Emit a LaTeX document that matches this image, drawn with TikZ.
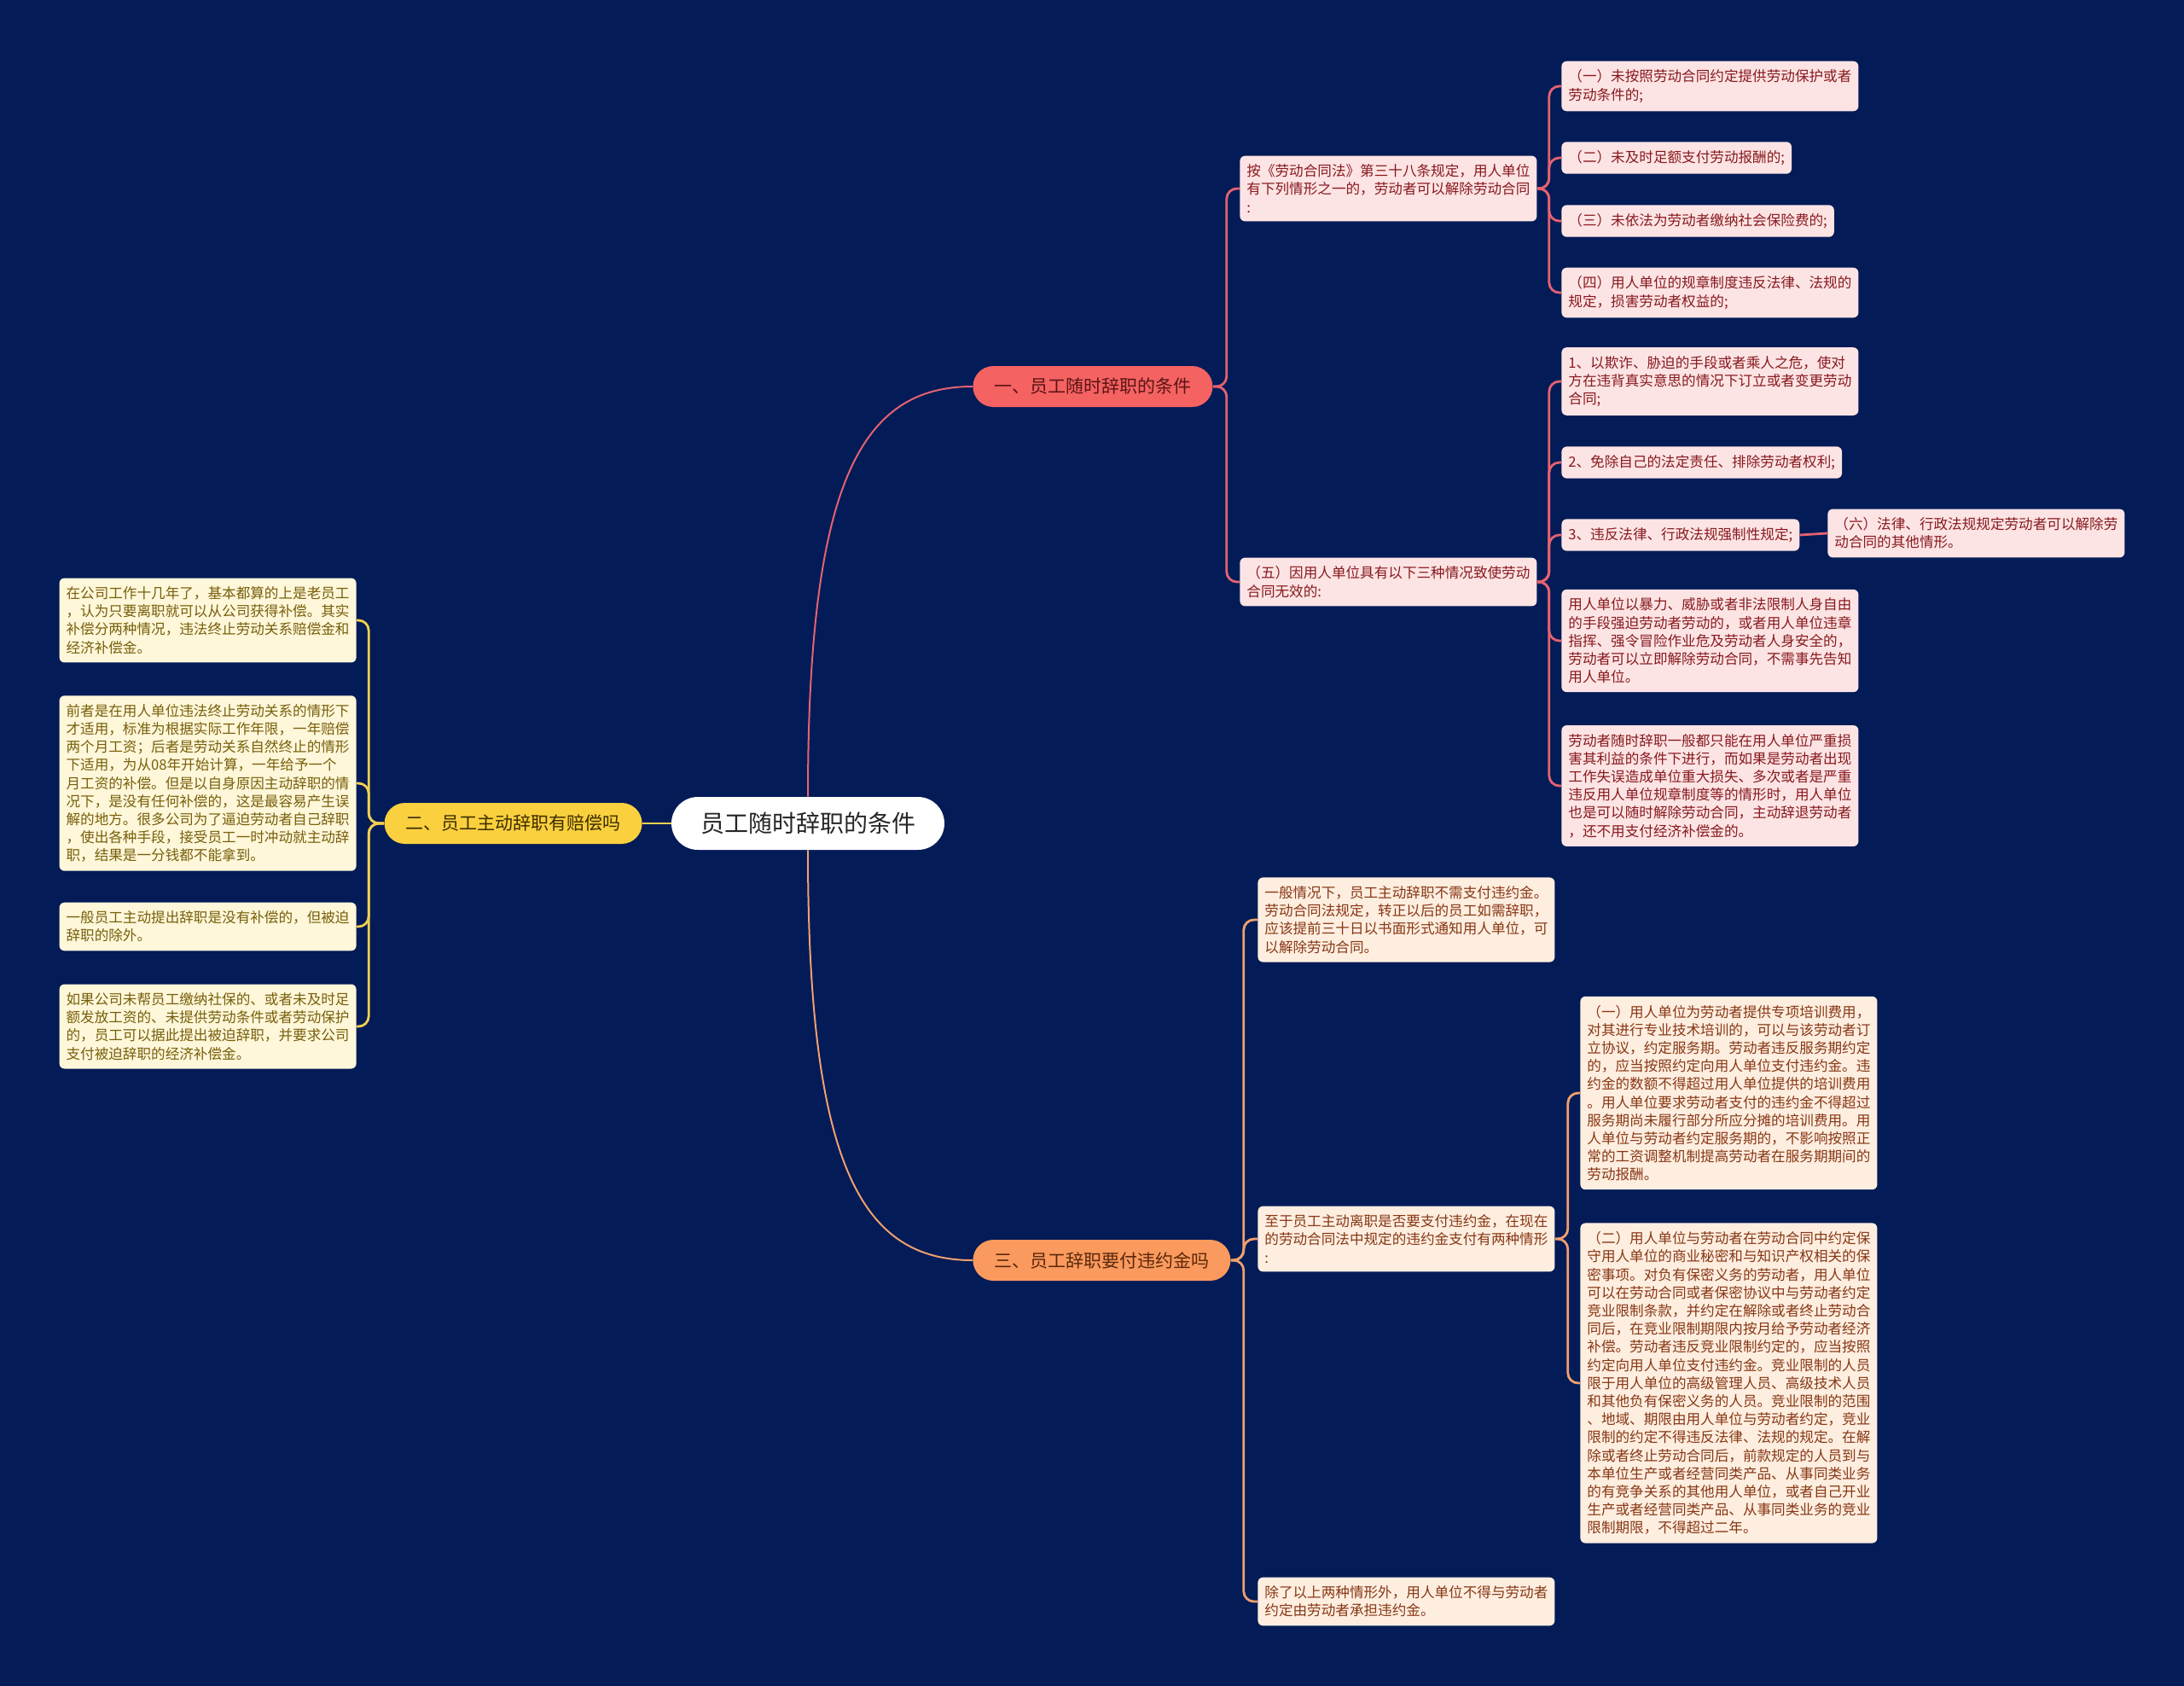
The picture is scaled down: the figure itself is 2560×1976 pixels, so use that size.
\documentclass[tikz,border=0pt]{standalone}
\usepackage{fontspec}
\setmainfont{Noto Sans CJK SC}
\usetikzlibrary{positioning}

\definecolor{navy}{RGB}{3,27,87}
\definecolor{redpill}{RGB}{245,98,98}
\definecolor{yellowpill}{RGB}{250,208,62}
\definecolor{orangepill}{RGB}{250,154,94}
\definecolor{pinkfill}{RGB}{253,228,228}
\definecolor{pinktext}{RGB}{135,25,30}
\definecolor{creamfill}{RGB}{254,247,218}
\definecolor{creamtext}{RGB}{120,95,10}
\definecolor{peachfill}{RGB}{254,238,224}
\definecolor{peachtext}{RGB}{135,55,20}
\definecolor{redline}{RGB}{228,98,112}
\definecolor{yellowline}{RGB}{240,208,80}
\definecolor{orangeline}{RGB}{240,160,110}
\definecolor{redpilltext}{RGB}{90,20,20}
\definecolor{yellowpilltext}{RGB}{60,45,0}
\definecolor{orangepilltext}{RGB}{90,40,10}

\newcommand\leaffont{\fontsize{8.3}{10.6}\selectfont}
\newcommand\pillfont{\fontsize{10.5}{12}\selectfont}
\newcommand\rootfont{\fontsize{14}{16}\selectfont}

\begin{document}
\begin{tikzpicture}[x=0.5pt,y=-0.5pt,
	rootpill/.style={rectangle, rounded corners=15.5pt, fill=white, text=black!85, font=\rootfont, inner xsep=17pt, minimum height=31pt},
	pill/.style={rectangle, rounded corners=12pt, font=\pillfont, inner xsep=12.5pt, minimum height=24pt},
	leaf/.style={rectangle, rounded corners=3pt, align=left, inner xsep=4pt, inner ysep=5pt, font=\leaffont},
	redleaf/.style={leaf, fill=pinkfill, text=pinktext},
	yellowleaf/.style={leaf, fill=creamfill, text=creamtext},
	orangeleaf/.style={leaf, fill=peachfill, text=peachtext},
	trunk/.style={line width=1pt},
	twig/.style={line width=1.4pt, rounded corners=6pt}]

	\fill[navy] (0,0) rectangle (2560,1976);
	\useasboundingbox (0,0) rectangle (2560,1976);

	\node[rootpill] (root) at (947,965) {员工随时辞职的条件};
	\node[pill, fill=redpill, text=redpilltext, anchor=west] (one) at (1140,453) {一、员工随时辞职的条件};
	\node[pill, fill=yellowpill, text=yellowpilltext, anchor=east] (two) at (753,965) {二、员工主动辞职有赔偿吗};
	\node[pill, fill=orangepill, text=orangepilltext, anchor=west] (three) at (1140,1477) {三、员工辞职要付违约金吗};

	% branch one
	\node[redleaf, anchor=west] (law) at (1453,221) {按《劳动合同法》第三十八条规定，用人单位\\有下列情形之一的，劳动者可以解除劳动合同\\:};
	\node[redleaf, anchor=west] (lawa) at (1830,101) {（一）未按照劳动合同约定提供劳动保护或者\\劳动条件的;};
	\node[redleaf, anchor=west] (lawb) at (1830,185) {（二）未及时足额支付劳动报酬的;};
	\node[redleaf, anchor=west] (lawc) at (1830,259) {（三）未依法为劳动者缴纳社会保险费的;};
	\node[redleaf, anchor=west] (lawd) at (1830,343) {（四）用人单位的规章制度违反法律、法规的\\规定，损害劳动者权益的;};

	\node[redleaf, anchor=west] (void) at (1453,682) {（五）因用人单位具有以下三种情况致使劳动\\合同无效的:};
	\node[redleaf, anchor=west] (voida) at (1830,447) {1、以欺诈、胁迫的手段或者乘人之危，使对\\方在违背真实意思的情况下订立或者变更劳动\\合同;};
	\node[redleaf, anchor=west] (voidb) at (1830,542) {2、免除自己的法定责任、排除劳动者权利;};
	\node[redleaf, anchor=west] (voidc) at (1830,627) {3、违反法律、行政法规强制性规定;};
	\node[redleaf, anchor=west] (voidc6) at (2142,625) {（六）法律、行政法规规定劳动者可以解除劳\\动合同的其他情形。};
	\node[redleaf, anchor=west] (voidd) at (1830,751) {用人单位以暴力、威胁或者非法限制人身自由\\的手段强迫劳动者劳动的，或者用人单位违章\\指挥、强令冒险作业危及劳动者人身安全的，\\劳动者可以立即解除劳动合同，不需事先告知\\用人单位。};
	\node[redleaf, anchor=west] (voide) at (1830,921) {劳动者随时辞职一般都只能在用人单位严重损\\害其利益的条件下进行，而如果是劳动者出现\\工作失误造成单位重大损失、多次或者是严重\\违反用人单位规章制度等的情形时，用人单位\\也是可以随时解除劳动合同，主动辞退劳动者\\，还不用支付经济补偿金的。};

	% branch two
	\node[yellowleaf, anchor=east] (paya) at (418,727) {在公司工作十几年了，基本都算的上是老员工\\，认为只要离职就可以从公司获得补偿。其实\\补偿分两种情况，违法终止劳动关系赔偿金和\\经济补偿金。};
	\node[yellowleaf, anchor=east] (payb) at (418,918) {前者是在用人单位违法终止劳动关系的情形下\\才适用，标准为根据实际工作年限，一年赔偿\\两个月工资；后者是劳动关系自然终止的情形\\下适用，为从08年开始计算，一年给予一个\\月工资的补偿。但是以自身原因主动辞职的情\\况下，是没有任何补偿的，这是最容易产生误\\解的地方。很多公司为了逼迫劳动者自己辞职\\，使出各种手段，接受员工一时冲动就主动辞\\职，结果是一分钱都不能拿到。};
	\node[yellowleaf, anchor=east] (payc) at (418,1086) {一般员工主动提出辞职是没有补偿的，但被迫\\辞职的除外。};
	\node[yellowleaf, anchor=east] (payd) at (418,1203) {如果公司未帮员工缴纳社保的、或者未及时足\\额发放工资的、未提供劳动条件或者劳动保护\\的，员工可以据此提出被迫辞职，并要求公司\\支付被迫辞职的经济补偿金。};

	% branch three
	\node[orangeleaf, anchor=west] (fine) at (1474,1078) {一般情况下，员工主动辞职不需支付违约金。\\劳动合同法规定，转正以后的员工如需辞职，\\应该提前三十日以书面形式通知用人单位，可\\以解除劳动合同。};
	\node[orangeleaf, anchor=west] (case) at (1474,1452) {至于员工主动离职是否要支付违约金，在现在\\的劳动合同法中规定的违约金支付有两种情形\\:};
	\node[orangeleaf, anchor=west] (casea) at (1852,1281) {（一）用人单位为劳动者提供专项培训费用，\\对其进行专业技术培训的，可以与该劳动者订\\立协议，约定服务期。劳动者违反服务期约定\\的，应当按照约定向用人单位支付违约金。违\\约金的数额不得超过用人单位提供的培训费用\\。用人单位要求劳动者支付的违约金不得超过\\服务期尚未履行部分所应分摊的培训费用。用\\人单位与劳动者约定服务期的，不影响按照正\\常的工资调整机制提高劳动者在服务期期间的\\劳动报酬。};
	\node[orangeleaf, anchor=west] (caseb) at (1852,1621) {（二）用人单位与劳动者在劳动合同中约定保\\守用人单位的商业秘密和与知识产权相关的保\\密事项。对负有保密义务的劳动者，用人单位\\可以在劳动合同或者保密协议中与劳动者约定\\竞业限制条款，并约定在解除或者终止劳动合\\同后，在竞业限制期限内按月给予劳动者经济\\补偿。劳动者违反竞业限制约定的，应当按照\\约定向用人单位支付违约金。竞业限制的人员\\限于用人单位的高级管理人员、高级技术人员\\和其他负有保密义务的人员。竞业限制的范围\\、地域、期限由用人单位与劳动者约定，竞业\\限制的约定不得违反法律、法规的规定。在解\\除或者终止劳动合同后，前款规定的人员到与\\本单位生产或者经营同类产品、从事同类业务\\的有竞争关系的其他用人单位，或者自己开业\\生产或者经营同类产品、从事同类业务的竞业\\限制期限，不得超过二年。};
	\node[orangeleaf, anchor=west] (other) at (1474,1877) {除了以上两种情形外，用人单位不得与劳动者\\约定由劳动者承担违约金。};

	% connectors
	\draw[trunk, redline] (root.north) .. controls +(0,-370) and +(-130,0) .. (one.west);
	\draw[trunk, orangeline] (root.south) .. controls +(0,370) and +(-130,0) .. (three.west);
	\draw[trunk, yellowline] (root.west) -- (two.east);

	\draw[twig, redline] (one.east) -- ++(16,0) |- (law.west);
	\draw[twig, redline] (one.east) -- ++(16,0) |- (void.west);
	\draw[twig, redline] (law.east) -- ++(14,0) |- (lawa.west);
	\draw[twig, redline] (law.east) -- ++(14,0) |- (lawb.west);
	\draw[twig, redline] (law.east) -- ++(14,0) |- (lawc.west);
	\draw[twig, redline] (law.east) -- ++(14,0) |- (lawd.west);
	\draw[twig, redline] (void.east) -- ++(14,0) |- (voida.west);
	\draw[twig, redline] (void.east) -- ++(14,0) |- (voidb.west);
	\draw[twig, redline] (void.east) -- ++(14,0) |- (voidc.west);
	\draw[twig, redline] (void.east) -- ++(14,0) |- (voidd.west);
	\draw[twig, redline] (void.east) -- ++(14,0) |- (voide.west);
	\draw[twig, redline] (voidc.east) -- (voidc6.west);

	\draw[twig, yellowline] (two.west) -- ++(-18,0) |- (paya.east);
	\draw[twig, yellowline] (two.west) -- ++(-18,0) |- (payb.east);
	\draw[twig, yellowline] (two.west) -- ++(-18,0) |- (payc.east);
	\draw[twig, yellowline] (two.west) -- ++(-18,0) |- (payd.east);

	\draw[twig, orangeline] (three.east) -- ++(15,0) |- (fine.west);
	\draw[twig, orangeline] (three.east) -- ++(15,0) |- (case.west);
	\draw[twig, orangeline] (three.east) -- ++(15,0) |- (other.west);
	\draw[twig, orangeline] (case.east) -- ++(15,0) |- (casea.west);
	\draw[twig, orangeline] (case.east) -- ++(15,0) |- (caseb.west);
\end{tikzpicture}
\end{document}
